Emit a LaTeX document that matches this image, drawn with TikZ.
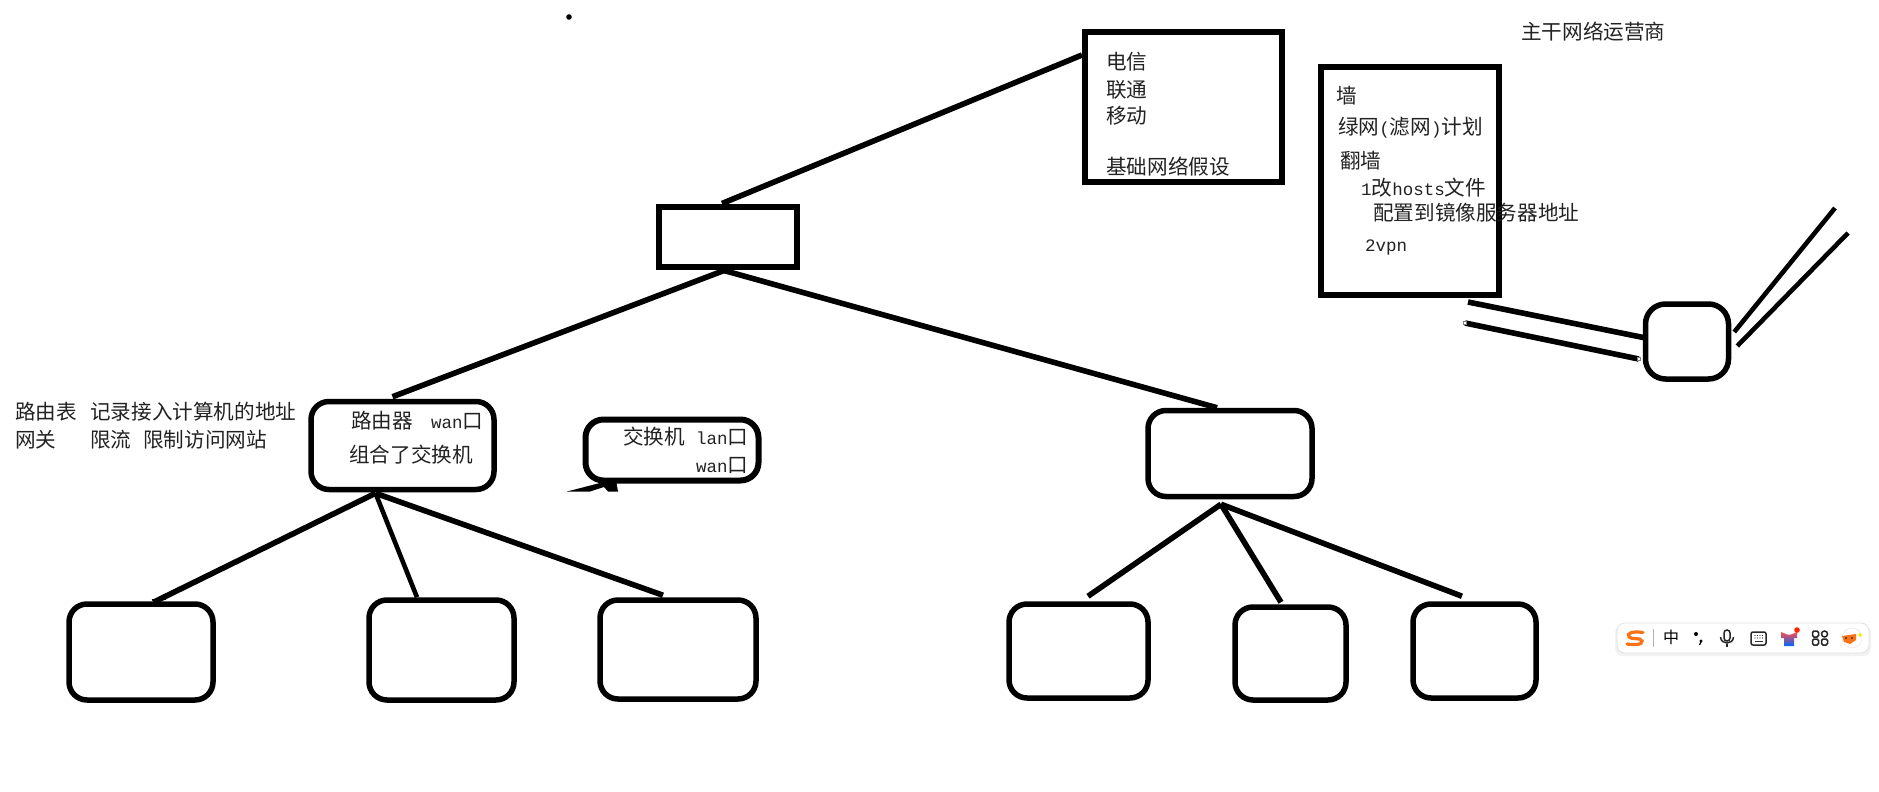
\documentclass[tikz,border=0pt]{standalone}
\usepackage{fontspec}
\setmainfont{Noto Sans CJK SC}
\newfontfamily\latfont{Liberation Mono}
\newcommand{\lat}[1]{{\latfont\fontsize{17.5pt}{20pt}\selectfont #1}}
\usetikzlibrary{calc}
\definecolor{txt}{HTML}{222222}
\definecolor{sogou}{HTML}{F97316}
\tikzset{
  rbox/.style={draw=black,line width=5.5pt,rounded corners=18pt,fill=white,inner sep=0pt},
  sqbox/.style={draw=black,line width=6pt,fill=white,inner sep=0pt},
  wire/.style={draw=black,line width=5.6pt},
  thinwire/.style={draw=black,line width=4.6pt},
  txtlab/.style={anchor=west,inner sep=0pt,text=txt,font=\fontsize{20.6pt}{22pt}\selectfont},
  handle/.style={draw=gray,line width=0.6pt,fill=white,minimum size=3pt,inner sep=0pt},
  icon/.style={draw=black!85,line width=1.5pt}
}
\begin{document}
\begin{tikzpicture}[x=1pt,y=-1pt]
\useasboundingbox (0,0) rectangle (1879,792);
\fill[white] (0,0) rectangle (1879,792);
% dot
\fill[black] (569,17) circle (2.8);
% boxes
\node[sqbox,minimum width=197pt,minimum height=150pt] (telecom) at (1183.5,107) {};
\node[sqbox,minimum width=178pt,minimum height=227pt] (wall) at (1410,181) {};
\node[sqbox,minimum width=138pt,minimum height=60pt] (center) at (728,236.5) {};
\node[rbox,minimum width=183pt,minimum height=88pt] (router) at (402.5,445.5) {};
\node[rbox,line width=6pt,rounded corners=18pt,minimum width=173pt,minimum height=61pt] (switch) at (672,450) {};
\node[rbox,minimum width=164pt,minimum height=86pt] (rmid) at (1230,453.5) {};
\node[rbox,minimum width=144pt,minimum height=96pt] (b1) at (141,652) {};
\node[rbox,minimum width=145pt,minimum height=100pt] (b2) at (441.5,650) {};
\node[rbox,minimum width=156pt,minimum height=99pt] (b3) at (678,649.5) {};
\node[rbox,minimum width=139pt,minimum height=94pt] (b4) at (1078.5,651) {};
\node[rbox,minimum width=111pt,minimum height=93pt] (b5) at (1290.5,653.5) {};
\node[rbox,minimum width=123pt,minimum height=94pt] (b6) at (1474.5,651) {};
\node[rbox,minimum width=83pt,minimum height=75pt,rounded corners=20pt] (rb) at (1687,341.5) {};
% connectors
\draw[wire] ($(center.north)+(-6,0)$) -- ($(telecom.west)+(0,-52)$);
\draw[wire] ($(center.south)+(-4,1)$) -- ($(router.north)+(-10,-2)$);
\draw[wire] ($(center.south)+(-4,1)$) -- ($(rmid.north)+(-13,0)$);
\draw[wire] ($(router.south)+(-27,1)$) -- ($(b1.north)+(12.5,1)$);
\draw[thinwire] ($(router.south)+(-27,1)$) -- ($(b2.north)+(-24.5,0)$);
\draw[wire] ($(router.south)+(-27,1)$) -- ($(b3.north)+(-15,-2)$);
\draw[wire] ($(rmid.south)+(-9,5)$) -- ($(b4.north)+(9.5,-5)$);
\draw[wire] ($(rmid.south)+(-9,5)$) -- ($(b5.north)+(-9.5,-2)$);
\draw[wire] ($(rmid.south)+(-9,5)$) -- ($(b6.north)+(-12.5,-5)$);
\draw[black,line width=1.5pt] (152,600) -- (166,599);
\coordinate (w1) at (1468,302);
\coordinate (w2) at (1465,323);
\coordinate (w3) at (1835,208);
\coordinate (w4) at (1848,233);
\draw[wire] (w1) -- ($(rb.west)+(3,-3.5)$);
\draw[wire] (w2) -- ($(rb.west)+(-4,17.5)$);
\draw[thinwire] ($(rb.east)+(3,-9.5)$) -- (w3);
\draw[thinwire] ($(rb.east)+(6,4.5)$) -- (w4);
\node[handle] (h1) at (w2) {};
\node[handle] (h2) at ($(rb.west)+(-4,17.5)$) {};
% arrow scrap under the switch
\fill[black] (567,491.5) -- (600,483) -- (616,480) -- (618,491.5) -- (608,491.5) -- (604,487) -- (590,491.5) -- cycle;
% labels
\node[txtlab] (t1) at (15,412) {路由表};
\node[txtlab] (t2) at (90,412) {记录接入计算机的地址};
\node[txtlab] (t3) at (15,440) {网关};
\node[txtlab] (t4) at (90,440) {限流};
\node[txtlab] (t5) at (143,440) {限制访问网站};
\node[txtlab] (t6) at (351,421) {路由器};
\node[txtlab] (t7) at (431,421) {\lat{wan}口};
\node[txtlab] (t8) at (349,455) {组合了交换机};
\node[txtlab] (t9) at (623,437) {交换机};
\node[txtlab] (t10) at (696,437) {\lat{lan}口};
\node[txtlab] (t11) at (696,465) {\lat{wan}口};
\node[txtlab] (t12) at (1106,62) {电信};
\node[txtlab] (t13) at (1106,90) {联通};
\node[txtlab] (t14) at (1106,116) {移动};
\node[txtlab] (t15) at (1106,167) {基础网络假设};
\node[txtlab] (t16) at (1336,96) {墙};
\node[txtlab] (t17) at (1338,128) {绿网\lat{(}滤网\lat{)}计划};
\node[txtlab] (t18) at (1340,161) {翻墙};
\node[txtlab] (t19) at (1361,188) {\lat{1}改\lat{hosts}文件};
\node[txtlab] (t20) at (1373,213) {配置到镜像服务器地址};
\node[txtlab] (t21) at (1365,247) {\lat{2vpn}};
\node[txtlab] (t22) at (1521,32) {主干网络运营商};
% input-method toolbar
\fill[black,opacity=0.05,rounded corners=8pt] (1615,625) rectangle (1871,656);
\draw[black!12,line width=0.8pt,fill=white,rounded corners=8pt] (1617,623) rectangle (1869,653);
\draw[sogou,line width=3.2pt,line cap=round] (1643,632.5) .. controls (1633,631) and (1626,633) .. (1629,637) .. controls (1631,640) and (1641,637) .. (1642,641) .. controls (1643,645) and (1633,645) .. (1627,644);
\draw[black!30,line width=0.8pt] (1653,629) -- (1653,647);
\node[inner sep=0pt,font=\fontsize{16pt}{16pt}\selectfont] (zh) at (1671,637.5) {中};
\fill[black] (1696,634) circle (2);
\fill[black] (1701,641) circle (1.6);
\draw[black,line width=1.2pt] (1701.5,641) -- (1699.5,645);
\begin{scope}[shift={(-2,0)}]
\draw[icon,rounded corners=3pt] (1726,630) rectangle (1732,641);
\draw[icon] (1722.5,637) .. controls (1723,645) and (1735,645) .. (1735.5,637);
\draw[icon] (1729,644) -- (1729,647);
\draw[icon,rounded corners=2pt] (1753,632) rectangle (1768,645);
\foreach \kx in {1757,1759.5,1762,1764.5}{\fill[black!80] (\kx,635.5) circle (0.6);\fill[black!80] (\kx,638) circle (0.6);}
\draw[black!80,line width=0.9pt] (1757,641.5) -- (1764.5,641.5);
\end{scope}
\begin{scope}[shift={(-3,0)}]
\shade[top color=red!60!pink,bottom color=blue!60!cyan] (1784,632) -- (1790,634.5) -- (1794,634.5) -- (1800,632) -- (1800,638) -- (1797,638) -- (1797,646) -- (1787,646) -- (1787,638) -- (1784,638) -- cycle;
\fill[red!70!orange] (1800,630) circle (2.8);
\end{scope}
\begin{scope}[shift={(-3.5,0)}]
\draw[icon,rounded corners=1.5pt] (1816,631) rectangle (1822,637);
\draw[icon] (1828,634) circle (3);
\draw[icon,rounded corners=1.5pt] (1816,639) rectangle (1822,645);
\draw[icon,rounded corners=1.5pt] (1825,639) rectangle (1831,645);
\end{scope}
\begin{scope}[shift={(-4,0)}]
\fill[white] (1856,638) circle (10);
\draw[black!8,line width=0.6pt] (1856,638) circle (10);
\fill[sogou] (1846,636) -- (1860,634) -- (1860,640) -- (1854,644) -- (1848,642) -- cycle;
\fill[black] (1850,638) circle (0.9);
\fill[black] (1856,638) circle (0.9);
\fill[yellow!90!orange] (1864,632) -- (1865,634.5) -- (1867.5,635) -- (1865,635.5) -- (1864,638) -- (1863,635.5) -- (1860.5,635) -- (1863,634.5) -- cycle;
\end{scope}
\end{tikzpicture}
\end{document}
